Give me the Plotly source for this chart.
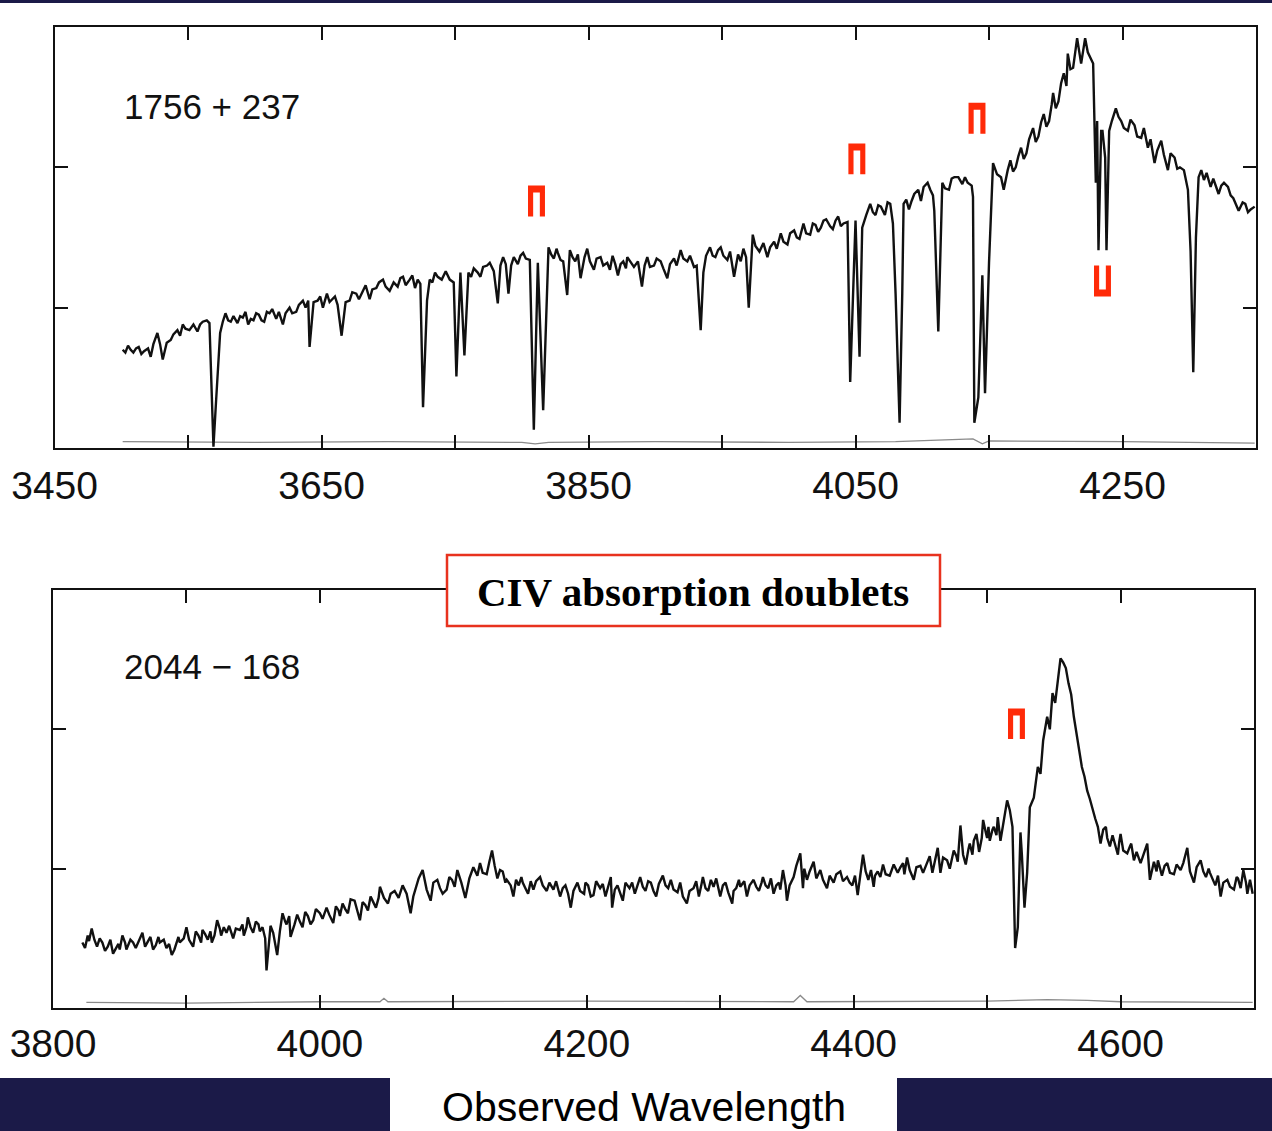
import plotly.graph_objects as go

# ---------------- data ----------------
# Spectrum of 1756+237 : (observed wavelength [A], relative flux)
top_spectrum = [
    (3501,0.70),(3503,0.68),(3505,0.73),(3507,0.70),(3509,0.68),(3511,0.71),(3513,0.72),(3515,0.67),(3517,0.69),(3520,0.71),
    (3522,0.65),(3524,0.74),(3527,0.82),(3529,0.74),(3531,0.63),(3534,0.75),(3537,0.77),(3539,0.81),(3542,0.84),(3544,0.80),
    (3546,0.88),(3548,0.85),(3551,0.84),(3554,0.88),(3557,0.83),(3559,0.88),(3561,0.90),(3564,0.91),(3566,0.89),(3569,0.01),
    (3571,0.34),(3574,0.82),(3576,0.90),(3578,0.96),(3580,0.91),(3582,0.90),(3584,0.94),(3587,0.89),(3589,0.94),(3591,0.93),
    (3593,0.97),(3595,0.88),(3597,0.92),(3599,0.91),(3601,0.96),(3603,0.95),(3605,0.91),(3607,0.90),(3609,0.97),(3611,0.96),
    (3613,0.99),(3616,0.92),(3618,0.97),(3621,0.88),(3623,0.96),(3626,1.00),(3628,0.96),(3631,0.97),(3633,1.02),(3636,1.05),
    (3638,1.00),(3640,1.05),(3641,0.72),(3644,1.04),(3647,1.05),(3649,1.08),(3651,1.00),(3654,1.10),(3656,1.04),(3658,1.06),
    (3660,1.08),(3662,1.02),(3665,0.80),(3668,1.04),(3671,1.05),(3673,1.11),(3676,1.10),(3678,1.06),(3681,1.12),(3683,1.16),
    (3686,1.06),(3688,1.13),(3691,1.14),(3693,1.18),(3696,1.20),(3698,1.15),(3701,1.12),(3704,1.18),(3707,1.15),(3709,1.21),
    (3711,1.22),(3713,1.16),(3716,1.20),(3718,1.23),(3720,1.14),(3722,1.20),(3724,1.17),(3726,0.29),(3729,1.05),(3731,1.20),
    (3733,1.18),(3735,1.25),(3737,1.22),(3740,1.20),(3743,1.26),(3746,1.20),(3749,1.18),(3751,0.51),(3754,1.25),(3757,0.66),
    (3760,1.25),(3762,1.22),(3764,1.28),(3767,1.25),(3769,1.22),(3771,1.29),(3774,1.30),(3776,1.32),(3779,1.26),(3782,1.03),
    (3784,1.30),(3786,1.36),(3788,1.31),(3790,1.10),(3792,1.30),(3794,1.36),(3797,1.31),(3799,1.37),(3801,1.39),(3803,1.35),
    (3806,1.34),(3809,0.13),(3812,1.32),(3816,0.27),(3820,1.43),(3822,1.38),(3824,1.35),(3826,1.42),(3827,1.39),(3829,1.34),
    (3831,1.33),(3834,1.09),(3836,1.41),(3838,1.36),(3840,1.33),(3842,1.38),(3844,1.21),(3847,1.36),(3849,1.42),(3851,1.33),
    (3854,1.27),(3856,1.35),(3859,1.36),(3861,1.30),(3864,1.32),(3866,1.27),(3868,1.37),(3870,1.31),(3872,1.23),(3874,1.31),
    (3876,1.33),(3878,1.28),(3879,1.36),(3882,1.32),(3884,1.29),(3887,1.33),(3890,1.15),(3892,1.30),(3894,1.36),(3896,1.29),
    (3899,1.30),(3901,1.35),(3904,1.33),(3906,1.28),(3909,1.21),(3911,1.31),(3914,1.35),(3916,1.30),(3919,1.41),(3921,1.35),
    (3924,1.33),(3926,1.37),(3929,1.29),(3931,1.30),(3934,0.84),(3936,1.25),(3938,1.37),(3941,1.43),(3943,1.37),(3945,1.36),
    (3947,1.41),(3949,1.43),(3951,1.37),(3954,1.34),(3956,1.40),(3959,1.22),(3962,1.38),(3964,1.33),(3966,1.42),(3968,1.36),
    (3970,1.00),(3973,1.52),(3975,1.44),(3978,1.40),(3981,1.46),(3984,1.36),(3986,1.43),(3989,1.47),(3991,1.42),(3994,1.53),
    (3996,1.47),(3999,1.45),(4001,1.53),(4004,1.55),(4006,1.50),(4008,1.49),(4011,1.60),(4013,1.53),(4016,1.52),(4018,1.60),
    (4020,1.59),(4022,1.54),(4024,1.57),(4026,1.62),(4028,1.63),(4031,1.58),(4033,1.56),(4035,1.62),(4037,1.65),(4039,1.58),
    (4041,1.60),(4044,1.61),(4046,0.47),(4049,1.34),(4050,1.62),(4053,0.65),(4055,1.57),(4058,1.66),(4061,1.74),(4063,1.68),
    (4065,1.66),(4067,1.73),(4069,1.72),(4072,1.66),(4074,1.75),(4076,1.74),(4078,1.60),(4080,1.10),(4083,0.18),(4085,1.10),
    (4086,1.74),(4088,1.77),(4090,1.70),(4092,1.76),(4094,1.81),(4097,1.84),(4099,1.76),(4101,1.86),(4104,1.89),(4106,1.84),
    (4108,1.80),(4109,1.69),(4112,0.83),(4115,1.89),(4117,1.85),(4120,1.84),(4122,1.92),(4124,1.93),(4127,1.93),(4130,1.88),
    (4132,1.93),(4134,1.89),(4137,1.87),(4138,1.79),(4139,0.18),(4142,0.36),(4145,1.23),(4147,0.39),(4150,1.32),(4153,2.03),
    (4156,1.95),(4159,1.93),(4161,1.84),(4164,1.98),(4166,2.05),(4168,1.97),(4170,2.00),(4172,2.08),(4174,2.14),(4176,2.06),
    (4178,2.10),(4180,2.20),(4183,2.28),(4185,2.18),(4187,2.22),(4189,2.32),(4191,2.38),(4193,2.29),(4195,2.33),(4197,2.45),
    (4198,2.53),(4200,2.42),(4202,2.47),(4204,2.60),(4206,2.67),(4208,2.58),(4209,2.81),(4211,2.70),(4213,2.71),(4215,2.85),
    (4216,2.92),(4218,2.80),(4219,2.74),(4221,2.86),(4222,2.92),(4224,2.82),(4226,2.78),(4228,2.74),(4230,1.89),(4231,2.33),
    (4232,1.41),(4234,2.26),(4235,2.26),(4237,2.07),(4238,1.41),(4240,2.26),(4242,2.33),(4245,2.42),(4247,2.36),(4249,2.33),
    (4251,2.28),(4254,2.26),(4256,2.34),(4259,2.30),(4261,2.22),(4264,2.21),(4266,2.28),(4269,2.14),(4271,2.20),(4274,2.03),
    (4276,2.12),(4279,2.19),(4281,2.09),(4284,1.98),(4286,2.10),(4289,2.07),(4291,1.99),(4293,2.00),(4296,1.98),(4299,1.84),
    (4301,1.40),(4303,0.54),(4305,1.50),(4307,1.93),(4309,1.98),(4311,1.91),(4313,1.96),(4316,1.86),(4318,1.92),(4322,1.81),
    (4324,1.87),(4326,1.89),(4329,1.86),(4331,1.80),(4333,1.78),(4335,1.74),(4337,1.69),(4340,1.75),(4342,1.74),(4344,1.68),
    (4346,1.70),(4349,1.72),
]
top_error = [
    (3501,0.045),(3600,0.040),(3700,0.045),(3800,0.040),(3810,0.030),(3820,0.040),(3900,0.045),(4000,0.040),
    (4080,0.045),(4138,0.065),(4145,0.030),(4150,0.050),(4250,0.045),(4300,0.040),(4349,0.035),
]

# Spectrum of 2044-168
bottom_spectrum = [
    (3822,0.47),(3824,0.43),(3826,0.52),(3827,0.48),(3829,0.57),(3831,0.49),(3833,0.44),(3835,0.50),(3837,0.47),(3839,0.41),
    (3841,0.44),(3843,0.49),(3845,0.39),(3847,0.43),(3849,0.46),(3850,0.42),(3852,0.52),(3854,0.47),(3855,0.42),(3858,0.49),
    (3860,0.47),(3862,0.43),(3865,0.50),(3867,0.54),(3869,0.44),(3871,0.48),(3873,0.51),(3875,0.42),(3877,0.45),(3879,0.51),
    (3880,0.47),(3883,0.49),(3885,0.43),(3887,0.46),(3889,0.38),(3891,0.42),(3892,0.45),(3894,0.51),(3895,0.47),(3898,0.50),
    (3900,0.58),(3902,0.49),(3905,0.44),(3907,0.55),(3909,0.52),(3911,0.47),(3912,0.56),(3914,0.53),(3916,0.49),(3918,0.55),
    (3919,0.47),(3921,0.52),(3923,0.63),(3925,0.57),(3926,0.52),(3928,0.58),(3930,0.54),(3932,0.59),(3935,0.50),(3937,0.57),
    (3940,0.56),(3942,0.60),(3943,0.52),(3945,0.58),(3946,0.65),(3948,0.58),(3950,0.54),(3952,0.62),(3954,0.60),(3955,0.55),
    (3957,0.58),(3959,0.50),(3960,0.27),(3962,0.45),(3963,0.59),(3965,0.54),(3968,0.38),(3970,0.55),(3972,0.68),(3974,0.62),
    (3975,0.60),(3977,0.66),(3978,0.51),(3981,0.60),(3983,0.67),(3985,0.62),(3987,0.58),(3989,0.69),(3991,0.66),(3993,0.60),
    (3995,0.63),(3997,0.71),(4000,0.68),(4002,0.64),(4005,0.72),(4007,0.67),(4010,0.61),(4012,0.73),(4014,0.70),(4015,0.66),
    (4017,0.75),(4019,0.71),(4021,0.68),(4023,0.78),(4026,0.77),(4028,0.70),(4030,0.63),(4032,0.76),(4034,0.74),(4036,0.70),
    (4038,0.80),(4040,0.76),(4042,0.72),(4044,0.79),(4045,0.87),(4048,0.79),(4051,0.75),(4053,0.82),(4056,0.84),(4059,0.79),
    (4062,0.88),(4065,0.82),(4068,0.68),(4070,0.80),(4072,0.86),(4074,0.93),(4077,0.99),(4080,0.85),(4083,0.77),(4085,0.90),
    (4088,0.92),(4090,0.86),(4092,0.82),(4095,0.85),(4097,0.94),(4099,0.92),(4101,0.87),(4103,0.99),(4106,0.90),(4109,0.79),
    (4112,0.93),(4115,1.01),(4118,0.95),(4120,1.04),(4122,0.97),(4125,0.96),(4127,1.05),(4129,1.13),(4131,1.02),(4133,0.93),
    (4135,0.99),(4137,0.98),(4139,0.90),(4140,0.92),(4143,0.88),(4145,0.80),(4147,0.92),(4149,0.88),(4151,0.94),(4152,0.90),
    (4154,0.86),(4156,0.82),(4158,0.91),(4160,0.85),(4162,0.91),(4165,0.94),(4167,0.88),(4170,0.84),(4172,0.90),(4175,0.85),
    (4177,0.91),(4180,0.80),(4182,0.86),(4184,0.88),(4186,0.82),(4188,0.72),(4190,0.84),(4193,0.90),(4195,0.84),(4198,0.82),
    (4199,0.90),(4201,0.88),(4203,0.80),(4205,0.81),(4207,0.91),(4210,0.86),(4212,0.89),(4214,0.80),(4216,0.87),(4218,0.94),
    (4219,0.72),(4221,0.85),(4223,0.88),(4225,0.83),(4227,0.77),(4229,0.90),(4232,0.86),(4234,0.90),(4236,0.82),(4238,0.88),
    (4240,0.94),(4242,0.87),(4244,0.84),(4246,0.91),(4248,0.90),(4250,0.84),(4252,0.80),(4254,0.89),(4257,0.95),(4259,0.88),
    (4261,0.86),(4263,0.92),(4265,0.85),(4268,0.83),(4270,0.90),(4272,0.80),(4275,0.75),(4277,0.84),(4280,0.86),(4282,0.91),
    (4284,0.80),(4286,0.89),(4287,0.94),(4289,0.86),(4291,0.84),(4293,0.92),(4295,0.87),(4297,0.93),(4300,0.80),(4302,0.88),
    (4304,0.90),(4306,0.83),(4309,0.75),(4310,0.84),(4312,0.86),(4314,0.92),(4315,0.87),(4318,0.91),(4320,0.80),(4322,0.88),
    (4325,0.92),(4327,0.87),(4329,0.84),(4331,0.90),(4332,0.94),(4334,0.88),(4336,0.86),(4338,0.93),(4340,0.82),(4342,0.88),
    (4344,0.90),(4345,0.85),(4347,0.99),(4349,0.88),(4350,0.77),(4352,0.88),(4355,0.94),(4357,1.02),(4360,1.11),(4362,0.86),
    (4363,1.00),(4365,0.92),(4367,0.98),(4370,1.05),(4372,0.93),(4375,0.99),(4377,0.92),(4380,0.86),(4382,0.95),(4385,0.90),
    (4387,0.96),(4390,0.98),(4392,0.91),(4395,0.94),(4397,0.90),(4399,0.88),(4401,0.95),(4403,0.81),(4405,0.96),(4407,1.10),
    (4409,0.98),(4411,0.92),(4413,0.99),(4415,0.87),(4416,0.95),(4418,0.98),(4420,0.94),(4422,1.03),(4424,0.96),(4427,0.95),
    (4430,1.03),(4433,0.97),(4435,1.01),(4437,1.04),(4438,0.96),(4440,1.08),(4442,0.99),(4445,0.92),(4447,1.01),(4450,1.02),
    (4452,0.97),(4455,1.04),(4457,1.09),(4459,0.97),(4461,1.05),(4463,1.15),(4465,0.97),(4467,1.08),(4470,1.06),(4472,1.00),
    (4475,1.13),(4477,1.09),(4478,1.05),(4480,1.31),(4482,1.10),(4484,1.03),(4486,1.14),(4487,1.18),(4489,1.10),(4490,1.20),
    (4492,1.25),(4494,1.12),(4496,1.22),(4497,1.35),(4499,1.26),(4500,1.22),(4501,1.30),(4502,1.20),(4504,1.28),(4505,1.30),
    (4507,1.24),(4508,1.37),(4510,1.20),(4512,1.32),(4513,1.40),(4515,1.49),(4517,1.42),(4519,1.30),(4521,0.43),(4523,0.58),
    (4525,1.26),(4526,1.11),(4528,0.72),(4530,0.97),(4532,1.44),(4535,1.51),(4538,1.73),(4540,1.68),(4542,1.92),(4545,2.09),
    (4547,2.00),(4549,2.26),(4551,2.19),(4553,2.36),(4555,2.51),(4557,2.48),(4559,2.44),(4561,2.33),(4563,2.25),(4565,2.09),
    (4568,1.90),(4571,1.73),(4573,1.66),(4575,1.56),(4577,1.50),(4579,1.42),(4581,1.36),(4583,1.30),(4585,1.18),(4587,1.28),
    (4589,1.30),(4590,1.22),(4592,1.16),(4594,1.24),(4595,1.20),(4597,1.14),(4598,1.10),(4599,1.19),(4600,1.25),(4602,1.13),
    (4605,1.11),(4607,1.16),(4608,1.18),(4610,1.06),(4612,1.12),(4615,1.04),(4617,1.10),(4620,1.18),(4622,0.92),(4624,1.02),
    (4625,1.05),(4627,0.98),(4628,1.06),(4631,0.95),(4633,1.02),(4635,1.04),(4637,0.97),(4640,0.96),(4642,1.03),(4645,0.99),
    (4647,1.04),(4650,1.15),(4652,0.98),(4655,0.90),(4657,1.01),(4660,1.06),(4662,0.98),(4664,0.94),(4666,1.00),(4667,0.97),
    (4669,0.92),(4671,0.88),(4673,0.95),(4675,0.80),(4677,0.90),(4680,0.92),(4682,0.87),(4685,0.85),(4687,0.94),(4688,0.93),
    (4690,0.86),(4692,0.99),(4694,0.90),(4695,0.82),(4697,0.92),(4699,0.82),
]
bottom_error = [
    (3825,0.040),(3900,0.035),(4000,0.045),(4045,0.045),(4048,0.070),(4051,0.045),(4200,0.050),(4300,0.045),
    (4355,0.045),(4360,0.090),(4365,0.045),(4500,0.050),(4545,0.060),(4575,0.055),(4600,0.045),(4699,0.040),
]

# x tick values / labels
top_ticks = [3450, 3550, 3650, 3750, 3850, 3950, 4050, 4150, 4250]
top_ticklabels = ["3450", "", "3650", "", "3850", "", "4050", "", "4250"]
bottom_ticks = [3800, 3900, 4000, 4100, 4200, 4300, 4400, 4500, 4600]
bottom_ticklabels = ["3800", "", "4000", "", "4200", "", "4400", "", "4600"]
y_ticks = [1, 2]

# CIV doublet markers: panel, wavelength, flux of marker top, orientation
marker_panel = ["top", "top", "top", "top", "bottom"]
marker_wl = [3811, 4051, 4141, 4235, 4522]
marker_flux = [1.87, 2.17, 2.46, 1.30, 2.15]
marker_open = ["down", "down", "down", "up", "down"]

panel_names = ["1756 + 237", "2044 \u2212 168"]
box_text = "CIV absorption doublets"
xlabel = "Observed Wavelength"

# ---------------- layout helpers ----------------
W, H = 1272, 1131
def fx(p):
    return p / W
def fy(p):
    return 1 - p / H

INK = "#111111"
RED = "#ff2a08"
NAVY = "#1b1a48"

fig = go.Figure()

def add_spec(data, xa, ya, color, width):
    fig.add_trace(go.Scatter(
        x=[d[0] for d in data], y=[d[1] for d in data], xaxis=xa, yaxis=ya,
        mode="lines", line=dict(color=color, width=width), hoverinfo="skip", showlegend=False))

add_spec(top_error, "x", "y", "#8a8a8a", 1.3)
add_spec(top_spectrum, "x", "y", INK, 2.4)
add_spec(bottom_error, "x2", "y2", "#8a8a8a", 1.3)
add_spec(bottom_spectrum, "x2", "y2", INK, 2.4)

axis_common = dict(showline=True, linecolor=INK, linewidth=2, mirror="ticks", ticks="inside",
                   ticklen=13, tickwidth=2, tickcolor=INK, showgrid=False, zeroline=False,
                   automargin=False)
xfont = dict(family="Liberation Sans", size=39, color=INK)

fig.update_layout(
    template="none",
    width=W, height=H, margin=dict(l=0, r=0, t=0, b=0, pad=0, autoexpand=False),
    paper_bgcolor="white", plot_bgcolor="white", showlegend=False,
    xaxis=dict(domain=[fx(54.6), fx(1256)], range=[3450, 4350], anchor="y",
               tickmode="array", tickvals=top_ticks, ticktext=top_ticklabels,
               tickfont=xfont, ticklabelstandoff=2, **axis_common),
    yaxis=dict(domain=[fy(448), fy(27)], range=[0, 3], anchor="x",
               tickmode="array", tickvals=y_ticks, showticklabels=False, **axis_common),
    xaxis2=dict(domain=[fx(53), fx(1254)], range=[3800, 4700], anchor="y2",
                tickmode="array", tickvals=bottom_ticks, ticktext=bottom_ticklabels,
                tickfont=xfont, ticklabelstandoff=0, **axis_common),
    yaxis2=dict(domain=[fy(1008), fy(590)], range=[0, 3], anchor="x2",
                tickmode="array", tickvals=y_ticks, showticklabels=False, **axis_common),
)

shapes = []
# navy bands
shapes.append(dict(type="rect", xref="paper", yref="paper", x0=0, x1=1, y0=fy(3), y1=1,
                   fillcolor=NAVY, line=dict(width=0), layer="above"))
shapes.append(dict(type="rect", xref="paper", yref="paper", x0=0, x1=fx(390), y0=0, y1=fy(1078),
                   fillcolor=NAVY, line=dict(width=0), layer="above"))
shapes.append(dict(type="rect", xref="paper", yref="paper", x0=fx(897), x1=1, y0=0, y1=fy(1078),
                   fillcolor=NAVY, line=dict(width=0), layer="above"))

# doublet markers
MW, MN, MH, MB = 12.7, 5.0, 0.22, 0.05
for panel, wl, top, op in zip(marker_panel, marker_wl, marker_flux, marker_open):
    xr, yr = ("x", "y") if panel == "top" else ("x2", "y2")
    x0, x1, x2, x3 = wl - MW / 2, wl - MN / 2, wl + MN / 2, wl + MW / 2
    yt, yb = top, top - MH
    if op == "down":
        yn = yt - MB
        path = (f"M{x0},{yb} L{x0},{yt} L{x3},{yt} L{x3},{yb} L{x2},{yb} "
                f"L{x2},{yn} L{x1},{yn} L{x1},{yb} Z")
    else:
        yn = yb + MB
        path = (f"M{x0},{yt} L{x0},{yb} L{x3},{yb} L{x3},{yt} L{x2},{yt} "
                f"L{x2},{yn} L{x1},{yn} L{x1},{yt} Z")
    shapes.append(dict(type="path", xref=xr, yref=yr, path=path, fillcolor=RED,
                       line=dict(width=0), layer="above"))

# CIV box
shapes.append(dict(type="rect", xref="paper", yref="paper", x0=fx(447), x1=fx(940), y0=fy(626), y1=fy(555),
                   fillcolor="white", line=dict(color="#e8321e", width=2.5), layer="above"))
fig.update_layout(shapes=shapes)

ann = []
ann.append(dict(text=panel_names[0], xref="x", yref="y", x=3500.6, y=2.43, xanchor="left", yanchor="middle",
                showarrow=False, font=dict(family="Liberation Sans", size=35, color=INK)))
ann.append(dict(text=panel_names[1], xref="x2", yref="y2", x=3851.7, y=2.45, xanchor="left", yanchor="middle",
                showarrow=False, font=dict(family="Liberation Sans", size=35, color=INK)))
ann.append(dict(text="<b>" + box_text + "</b>", xref="paper", yref="paper", x=fx(693.5), y=fy(592),
                xanchor="center", yanchor="middle", showarrow=False,
                font=dict(family="Liberation Serif", size=41, color="black")))
ann.append(dict(text=xlabel, xref="paper", yref="paper", x=fx(644), y=fy(1107),
                xanchor="center", yanchor="middle", showarrow=False,
                font=dict(family="Liberation Sans", size=41, color="black")))
fig.update_layout(annotations=ann)

fig.write_html("out.html")
